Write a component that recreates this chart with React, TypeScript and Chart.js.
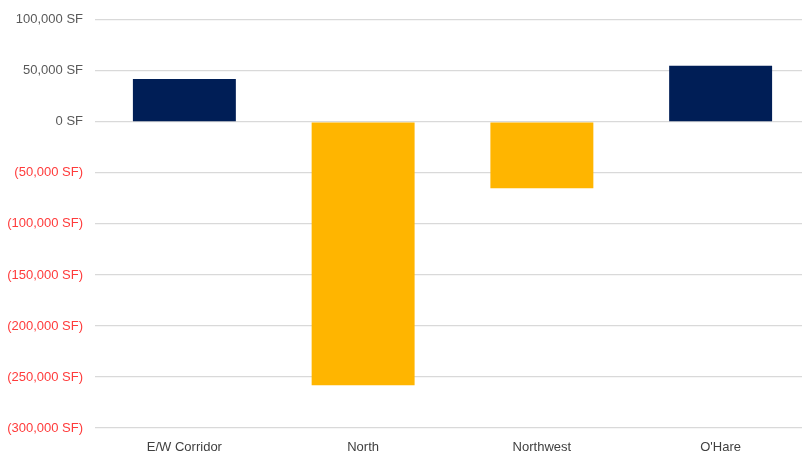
import React, { useEffect, useRef } from "react";
import { Chart, registerables } from "chart.js";

Chart.register(...registerables);

const categories = ["E/W Corridor", "North", "Northwest", "O'Hare"];
const netAbsorption = [42000, -258000, -65000, 55000];
const yMin = -300000;
const yMax = 100000;
const yStep = 50000;

const POS_COLOR = "#001E56";
const NEG_COLOR = "#FFB500";

function fmt(v: number): string {
  const s = Math.abs(v).toLocaleString("en-US");
  return v < 0 ? `(${s} SF)` : `${s} SF`;
}

export default function App() {
  const ref = useRef<HTMLCanvasElement | null>(null);

  useEffect(() => {
    if (!ref.current) return;
    const chart = new Chart(ref.current, {
      type: "bar",
      data: {
        labels: categories,
        datasets: [
          {
            data: netAbsorption,
            backgroundColor: netAbsorption.map((v) => (v < 0 ? NEG_COLOR : POS_COLOR)),
            borderWidth: 0,
            categoryPercentage: 1,
            barPercentage: 0.576,
          },
        ],
      },
      options: {
        responsive: false,
        animation: false,
        layout: { padding: { top: 12, right: 2, bottom: 0, left: 0 } },
        plugins: { legend: { display: false }, tooltip: { enabled: false } },
        scales: {
          x: {
            grid: { display: false, drawTicks: false },
            border: { display: false },
            afterFit: (scale: any) => {
              scale.height = 28;
            },
            ticks: {
              color: "#404040",
              font: { family: "'Liberation Sans', Arial, sans-serif", size: 13 },
              padding: 12,
            },
          },
          y: {
            min: yMin,
            max: yMax,
            grid: { color: "#d9d9d9", lineWidth: 1.3, drawTicks: false },
            border: { display: false },
            afterFit: (scale: any) => {
              scale.width = 95;
            },
            ticks: {
              stepSize: yStep,
              padding: 12,
              color: (ctx: any) => (ctx.tick && ctx.tick.value < 0 ? "#FF3B3B" : "#595959"),
              font: { family: "'Liberation Sans', Arial, sans-serif", size: 13 },
              callback: (v: any) => fmt(Number(v)),
            },
          },
        },
      },
    });
    return () => chart.destroy();
  }, []);

  return (
    <div
      style={{
        position: "fixed",
        left: 0,
        top: 0,
        width: 802,
        height: 456,
        overflow: "hidden",
        background: "#fff",
      }}
    >
      <canvas ref={ref} width={812} height={456} style={{ display: "block" }} />
    </div>
  );
}
